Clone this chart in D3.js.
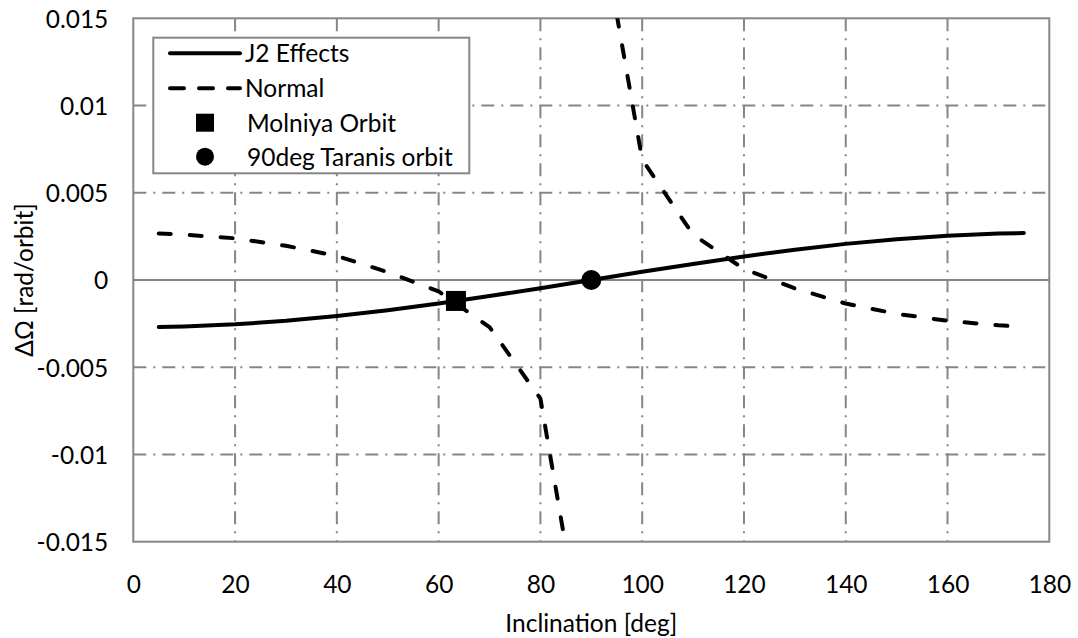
<!DOCTYPE html>
<html>
<head>
<meta charset="utf-8">
<script src="https://cdn.jsdelivr.net/npm/d3@7"></script>
<style>
  body { margin: 0; background: #fff; }
  svg text { font-family: Lato, "Open Sans", sans-serif; font-size: 24.5px; font-weight: 400; fill: #000; }
</style>
</head>
<body>
<svg></svg>
<script>
// chart data
const inclJ2 = [5, 10, 20, 30, 40, 50, 60, 70, 80, 90, 100, 110, 120, 130, 140, 150, 160, 170, 175];
const j2Effects = [-0.00269, -0.00266, -0.00254, -0.00234, -0.00207, -0.00174, -0.00135, -0.00092, -0.00047, 0,
    0.00047, 0.00092, 0.00135, 0.00174, 0.00207, 0.00234, 0.00254, 0.00266, 0.00269];

// Normal series has a gap at 90 deg (blows up)
const inclNormal = [5, 10, 20, 30, 40, 50, 60, 70, 80, 85, 90, 95, 100, 110, 120, 130, 140, 150, 160, 170, 175];
const normal = [0.00267, 0.0026, 0.00239, 0.00196, 0.00138, 0.00045, -0.00065, -0.0027, -0.0068, -0.0153, null,
    0.0152, 0.0069, 0.0026, 0.00063, -0.00048, -0.00135, -0.00194, -0.00234, -0.0026, -0.00267];

const molniya = [63.4, -0.0012];
const taranis = [90, 0];

const xTicks = [0, 20, 40, 60, 80, 100, 120, 140, 160, 180];
const yTicks = [-0.015, -0.01, -0.005, 0, 0.005, 0.01, 0.015];
const yTickLabels = ["-0.015", "-0.01", "-0.005", "0", "0.005", "0.01", "0.015"];

const legendNames = ["J2 Effects", "Normal", "Molniya Orbit", "90deg Taranis orbit"];

// The svg
let width = 1078;
let height = 638;
const svg = d3.select("svg").attr("width", width).attr("height", height);

let plotLeft = 133.3, plotRight = 1049.3, plotTop = 18.3, plotBottom = 541.7;
let grey = "#868686";

let x = d3.scaleLinear().domain([0, 180]).range([plotLeft, plotRight]);
let y = d3.scaleLinear().domain([-0.015, 0.015]).range([plotBottom, plotTop]);

svg.append("clipPath").attr("id", "plot")
    .append("rect")
    .attr("x", plotLeft).attr("y", plotTop)
    .attr("width", plotRight - plotLeft).attr("height", plotBottom - plotTop);

// gridlines (dash-dot)
let grid = svg.append("g");
grid.selectAll("line.v")
    .data(xTicks.slice(1, -1))
    .enter().append("line")
    .attr("x1", d => x(d)).attr("x2", d => x(d))
    .attr("y1", plotTop).attr("y2", plotBottom)
    .attr("stroke", grey).attr("stroke-width", 2)
    .attr("stroke-dasharray", "13,7,2,7");

grid.selectAll("line.h")
    .data(yTicks.filter(d => d != 0 && Math.abs(d) < 0.015))
    .enter().append("line")
    .attr("x1", plotLeft).attr("x2", plotRight)
    .attr("y1", d => y(d)).attr("y2", d => y(d))
    .attr("stroke", grey).attr("stroke-width", 2)
    .attr("stroke-dasharray", "13,7,2,7");

// zero line
grid.append("line")
    .attr("x1", plotLeft).attr("x2", plotRight)
    .attr("y1", y(0)).attr("y2", y(0))
    .attr("stroke", grey).attr("stroke-width", 2);

// plot border
svg.append("rect")
    .attr("x", plotLeft).attr("y", plotTop)
    .attr("width", plotRight - plotLeft).attr("height", plotBottom - plotTop)
    .attr("fill", "none").attr("stroke", grey).attr("stroke-width", 2);

// axes: only labels, Excel style
let xAxis = d3.axisBottom(x).tickValues(xTicks).tickSize(0).tickPadding(0);
let gx = svg.append("g").attr("transform", "translate(0," + plotBottom + ")").call(xAxis);
gx.select(".domain").remove();
gx.selectAll("text").attr("y", 51).attr("dy", null);

let yAxis = d3.axisLeft(y).tickValues(yTicks)
    .tickFormat((d, i) => yTickLabels[i]).tickSize(0).tickPadding(0);
let gy = svg.append("g").attr("transform", "translate(" + plotLeft + ",0)").call(yAxis);
gy.select(".domain").remove();
gy.selectAll("text").attr("x", -25).attr("dy", "0.36em");
svg.selectAll("g.tick").select("text").attr("fill", "#000");
gx.attr("font-size", null).attr("font-family", null);
gy.attr("font-size", null).attr("font-family", null);

// axis titles
svg.append("text")
    .attr("x", (plotLeft + plotRight) / 2).attr("y", 632)
    .attr("text-anchor", "middle")
    .text("Inclination [deg]");

svg.append("text")
    .attr("transform", "translate(33," + y(0) + ") rotate(-90)")
    .attr("text-anchor", "middle")
    .text("ΔΩ [rad/orbit]");

// series
let lines = svg.append("g").attr("clip-path", "url(#plot)");

let j2Line = d3.line()
    .x((d, i) => x(inclJ2[i]))
    .y(d => y(d));

let normalLine = d3.line()
    .defined(d => d !== null)
    .x((d, i) => x(inclNormal[i]))
    .y(d => y(d));

lines.append("path")
    .datum(normal)
    .attr("d", normalLine)
    .attr("fill", "none").attr("stroke", "#000").attr("stroke-width", 4)
    .attr("stroke-linecap", "round").attr("stroke-linejoin", "round")
    .attr("stroke-dasharray", "12,19");

lines.append("path")
    .datum(j2Effects)
    .attr("d", j2Line)
    .attr("fill", "none").attr("stroke", "#000").attr("stroke-width", 4)
    .attr("stroke-linecap", "round").attr("stroke-linejoin", "round");

// markers
svg.append("rect")
    .attr("x", x(molniya[0]) - 10).attr("y", y(molniya[1]) - 10)
    .attr("width", 20).attr("height", 20)
    .attr("fill", "#000");

svg.append("circle")
    .attr("cx", x(taranis[0])).attr("cy", y(taranis[1]))
    .attr("r", 10).attr("fill", "#000");

// legend
let legend = svg.append("g");
legend.append("rect")
    .attr("x", 153.3).attr("y", 37.7)
    .attr("width", 316).attr("height", 135.6)
    .attr("fill", "#fff").attr("stroke", grey).attr("stroke-width", 2);

let rowY = [53.3, 88.3, 122.7, 156.7];

legend.append("line")
    .attr("x1", 170).attr("x2", 240).attr("y1", rowY[0]).attr("y2", rowY[0])
    .attr("stroke", "#000").attr("stroke-width", 4).attr("stroke-linecap", "round");
legend.append("line")
    .attr("x1", 170).attr("x2", 240).attr("y1", rowY[1]).attr("y2", rowY[1])
    .attr("stroke", "#000").attr("stroke-width", 4).attr("stroke-linecap", "round")
    .attr("stroke-dasharray", "14,15");
legend.append("rect")
    .attr("x", 205 - 9).attr("y", rowY[2] - 9)
    .attr("width", 18).attr("height", 18).attr("fill", "#000");
legend.append("circle")
    .attr("cx", 205).attr("cy", rowY[3]).attr("r", 9).attr("fill", "#000");

legend.selectAll("text.name")
    .data(legendNames)
    .enter().append("text")
    .attr("x", (d, i) => i < 2 ? 245 : 247)
    .attr("y", (d, i) => rowY[i] + 9)
    .text(d => d);
</script>
</body>
</html>
